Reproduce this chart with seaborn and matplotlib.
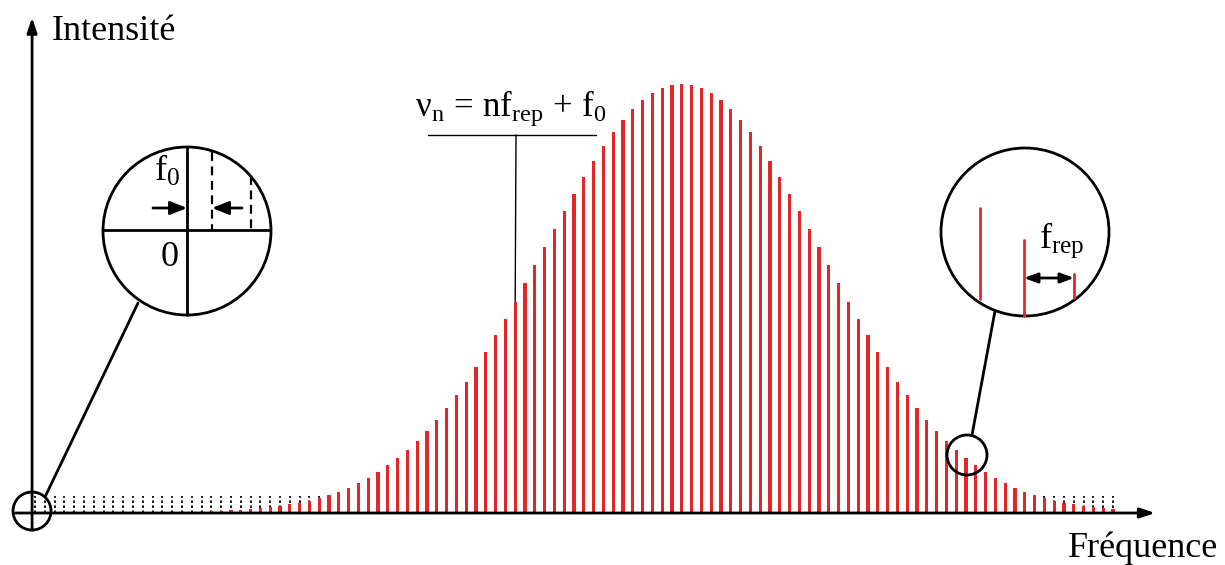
import numpy as np
import matplotlib
matplotlib.use("Agg")
import matplotlib.pyplot as plt
import seaborn as sns
from matplotlib.patches import Circle

# comb lines: index n and relative intensity (peak = 100)
modes = np.arange(111)
intensity = [
    0, 0, 0, 0, 0, 0, 0, 0, 0, 0, 0, 0, 0, 0, 0, 0, 0, 0,
    0.4, 0.45, 0.6, 0.7, 0.9, 1.1, 1.3, 1.6, 2.0, 2.4, 2.9, 3.5,
    4.2, 5.0, 5.9, 7.0, 8.2, 9.5, 11.1, 12.8, 14.7, 16.8, 19.1, 21.7,
    24.5, 27.4, 30.6, 34.0, 37.6, 41.4, 45.3, 49.3, 53.5, 57.7, 61.9, 66.2,
    70.3, 74.4, 78.3, 82.0, 85.5, 88.7, 91.6, 94.1, 96.2, 97.8, 99.0, 99.8,
    100.0,
    99.8, 99.0, 97.8, 96.2, 94.1, 91.6, 88.7, 85.5, 82.0, 78.3, 74.4, 70.3,
    66.2, 61.9, 57.7, 53.5, 49.3, 45.3, 41.4, 37.6, 34.0, 30.6, 27.4, 24.5,
    21.7, 19.1, 16.8, 14.7, 12.8, 11.1, 9.5, 8.2, 7.0, 5.9, 5.0, 4.2,
    3.5, 2.9, 2.4, 2.0, 1.6, 1.3, 1.1, 0.9,
]
floor_level = 4.0      # height of the dotted comb teeth
pointer_mode = 49      # tooth the formula label points at

RED = "#e3262a"
W, H = 1225, 565
PX_X, PX_Y = 9.8, 4.29   # pixels per comb step / per intensity unit
X0, Y0 = 35, 513         # pixel position of n=0, intensity 0

sns.set_style("white")
plt.rcParams["font.family"] = ["Liberation Serif", "DejaVu Serif"]
plt.rcParams["text.color"] = "black"
plt.rcParams["mathtext.fontset"] = "custom"
plt.rcParams["mathtext.rm"] = "Liberation Serif"
plt.rcParams["mathtext.it"] = "Liberation Serif:italic"

fig = plt.figure(figsize=(W / 100, H / 100), dpi=100)
ax = fig.add_axes([0, 0, 1, 1])

ax.vlines(modes, 0, floor_level, colors="black", lw=1.3,
          linestyles=(0, (1.4, 1.4)), zorder=1)
sns.barplot(x=modes, y=intensity, native_scale=True, width=0.33,
            color=RED, saturation=1, linewidth=0, errorbar=None,
            ax=ax, zorder=2)

ax.set_xlim(-X0 / PX_X, (W - X0) / PX_X)
ax.set_ylim(-(H - Y0) / PX_Y, Y0 / PX_Y)
ax.axis("off")

# axes arrows
arrow = dict(arrowstyle="-|>,head_length=0.9,head_width=0.3", lw=2,
             color="black", shrinkA=0, shrinkB=0)
ax.annotate("", xy=(114.3, 0), xytext=(-2.0, 0), arrowprops=arrow, zorder=3)
ax.annotate("", xy=(-0.3, 115.5), xytext=(-0.3, -4.0), arrowprops=arrow, zorder=3)

# overlay in pixel coordinates for the schematic decorations
ov = fig.add_axes([0, 0, 1, 1], facecolor="none")
ov.set_xlim(0, W)
ov.set_ylim(H, 0)
ov.axis("off")

ov.text(52, 32, "Intensité", fontsize=26, va="center", ha="left")
ov.text(1218, 548, "Fréquence", fontsize=26, va="center", ha="right")

# formula label with pointer to one tooth
ov.text(511, 108, r"$\mathrm{ν_n\,=\,nf_{rep}\,+\,f_0}$", fontsize=25,
        ha="center", va="center")
ov.plot([428, 596], [135, 135], color="black", lw=1)
ax.annotate("", xy=(pointer_mode, intensity[pointer_mode]), xycoords="data",
            xytext=(516, 135), textcoords=ov.transData,
            arrowprops=dict(arrowstyle="-", lw=1, color="black",
                            shrinkA=0, shrinkB=0))

# left zoom: offset f0
ov.add_patch(Circle((32, 511), 19, fill=False, lw=2, color="black"))
ov.plot([45, 138], [497, 303], color="black", lw=2)
ov.add_patch(Circle((187, 231), 84, fill=False, lw=2, color="black"))
ov.plot([187, 187], [147, 315], color="black", lw=2)
ov.plot([104, 270], [230, 230], color="black", lw=2)
ov.plot([212, 212], [152, 230], color="black", lw=1.6, ls=(0, (4, 2.5)))
ov.plot([251, 251], [176, 230], color="black", lw=1.6, ls=(0, (4, 2.5)))
head = dict(arrowstyle="-|>,head_length=1.0,head_width=0.4", lw=2,
            color="black", shrinkA=0, shrinkB=0)
ov.annotate("", xy=(187, 208), xytext=(153, 208), arrowprops=head)
ov.annotate("", xy=(212, 208), xytext=(242, 208), arrowprops=head)
ov.text(167, 171, r"$\mathrm{f_0}$", fontsize=26, ha="center", va="center")
ov.text(170, 257, "0", fontsize=26, ha="center", va="center")

# right zoom: repetition rate
ov.add_patch(Circle((967, 455), 20, fill=False, lw=2, color="black"))
ov.plot([972, 995], [435, 311], color="black", lw=2)
ov.add_patch(Circle((1025, 232), 84, fill=False, lw=2, color="black"))
ov.plot([980, 980], [208, 299], color=RED, lw=2)
ov.plot([1024, 1024], [240, 316], color=RED, lw=2)
ov.plot([1074, 1074], [274, 298], color=RED, lw=2)
ov.annotate("", xy=(1074, 278), xytext=(1024, 278),
            arrowprops=dict(arrowstyle="<|-|>,head_length=0.8,head_width=0.3",
                            lw=2, color="black", shrinkA=0, shrinkB=0))
ov.text(1062, 240, r"$\mathrm{f_{rep}}$", fontsize=26, ha="center", va="center")

fig.savefig("out.png", dpi=100, facecolor="white")
